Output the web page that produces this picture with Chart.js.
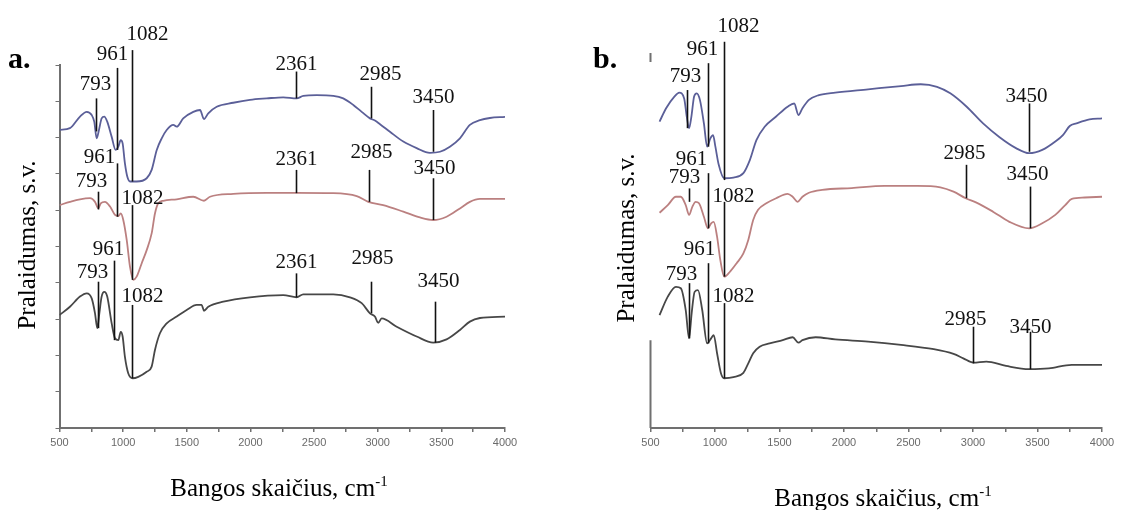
<!DOCTYPE html>
<html lang="lt">
<head>
<meta charset="UTF-8">
<title>FTIR spektrai</title>
<script src="https://cdn.jsdelivr.net/npm/chart.js"></script>
<style>
  body { margin: 0; width: 1123px; height: 510px; background: #fff; position: relative; overflow: hidden;
         font-family: "Liberation Serif", "Times New Roman", serif; color: #000; }
  canvas { position: absolute; top: 0; }
  #chartA { left: 0; }
  #chartB { left: 560px; }
  .txt { position: absolute; white-space: nowrap; line-height: 1; }
  .panel { font-size: 30px; font-weight: bold; }
  .ytitle { font-size: 25px; transform: translate(-50%, -50%) rotate(-90deg); }
  .xtitle { font-size: 25px; transform: translate(-50%, -50%); }
  .xtitle sup { font-size: 0.6em; line-height: 0; }
</style>
</head>
<body>
<canvas id="chartA" width="560" height="510" style="width:560px;height:510px"></canvas>
<canvas id="chartB" width="563" height="510" style="width:563px;height:510px"></canvas>

<div class="txt panel" style="left:8px; top:43px">a.</div>
<div class="txt panel" style="left:593px; top:43px">b.</div>
<div class="txt ytitle" style="left:26px; top:245px">Pralaidumas, s.v.</div>
<div class="txt ytitle" style="left:625px; top:238px">Pralaidumas, s.v.</div>
<div class="txt xtitle" style="left:279px; top:487px">Bangos skaičius, cm<sup>-1</sup></div>
<div class="txt xtitle" style="left:883px; top:497px">Bangos skaičius, cm<sup>-1</sup></div>

<script>
// ---- panel a: spectra (wavenumber, cm-1 / transmittance, a.u.) ----
const wnBlueA = [500,582,661,714,753,773,792,810,831,852,875,910,941,962,981,996,1014,1033,1054,1106,1185,1224,1264,1303,1342,1394,1421,1472,1551,1604,1635,1669,1735,1865,1996,2128,2258,2363,2415,2520,2651,2729,2808,2874,2939,2978,3018,3096,3201,3306,3410,3489,3567,3646,3724,3803,3881,4000];
const trBlueA = [82.1,82.6,85.8,87.1,86.2,84.4,79.8,82.1,85.3,85.8,84.4,80.2,76.6,77.5,79.3,78.4,72.9,69.2,67.9,67.9,68.8,71.1,76.6,79.8,82.1,83.5,83.0,85.3,87.1,87.6,85.1,86.7,88.5,89.6,90.4,90.8,91.1,90.8,91.5,91.7,91.5,90.8,89.0,87.1,85.3,84.7,83.7,81.6,78.9,77.1,75.8,76.1,77.5,79.8,83.5,84.8,85.4,85.7];

const wnRedA = [500,582,661,740,779,805,824,857,897,936,962,981,1001,1028,1054,1080,1106,1146,1185,1224,1250,1276,1315,1421,1551,1635,1682,1865,2128,2363,2651,2835,2926,3043,3201,3332,3436,3541,3646,3724,3803,4000];
const trRedA = [61.4,62.3,63.0,63.3,62.3,60.5,61.9,62.3,61.0,58.7,58.4,59.1,57.3,51.8,44.4,40.8,41.7,45.4,49.0,53.6,59.1,61.9,62.6,63.0,63.7,62.6,63.7,64.5,64.8,64.8,64.7,63.9,62.3,61.4,59.6,58.0,57.3,58.2,60.5,62.3,63.1,63.1];

const wnBlackA = [500,582,661,714,753,779,797,813,831,852,875,910,936,962,981,996,1014,1040,1075,1119,1185,1224,1250,1289,1342,1421,1499,1578,1617,1635,1669,1787,1996,2258,2363,2415,2651,2782,2874,2939,2978,3004,3031,3149,3306,3436,3541,3646,3724,3803,4000];
const trBlackA = [31.1,33.4,36.2,37.1,35.7,31.6,27.5,31.6,36.2,37.5,36.2,28.8,24.7,24.2,26.5,25.2,19.6,15.1,13.7,14.1,15.5,16.9,21.5,26.1,28.8,30.7,32.5,33.9,33.9,32.3,33.4,34.8,36.0,36.6,36.0,36.8,36.8,36.0,34.4,31.6,30.7,29.0,30.2,27.9,25.2,23.5,24.4,27.0,29.3,30.3,30.7];

// ---- panel b ----
const wnBlueB = [570,621,685,723,761,781,799,817,838,858,883,914,939,964,985,1003,1029,1071,1143,1220,1270,1321,1385,1474,1563,1614,1647,1678,1728,1805,1932,2187,2442,2595,2721,2824,2951,3078,3206,3333,3435,3537,3638,3697,3750,3802,3903,4000];
const trBlueB = [84.4,88.1,91.3,92.4,90.8,85.8,82.6,85.8,91.3,92.2,90.4,83.9,77.5,79.8,80.7,77.5,72.5,68.8,69.0,70.2,73.8,79.3,83.0,85.8,88.5,89.4,86.2,88.1,90.4,91.7,92.4,93.3,94.2,94.7,94.0,92.2,88.5,83.9,80.1,77.1,75.7,76.6,78.9,80.7,83.2,83.9,85.0,85.3];

const wnRedB = [570,634,697,735,773,799,825,850,876,914,945,970,990,1016,1041,1071,1117,1168,1220,1258,1296,1334,1398,1474,1563,1602,1640,1678,1728,1831,2060,2314,2569,2747,2849,2943,3027,3155,3282,3435,3537,3638,3715,3766,3865,4000];
const trRedB = [59.3,61.4,63.7,63.7,61.4,58.7,61.0,62.3,61.9,58.2,55.0,56.4,56.8,52.7,46.3,41.7,43.1,45.4,48.1,51.8,57.3,60.1,61.9,63.3,64.5,63.7,62.3,63.7,64.8,65.6,66.1,66.7,66.7,66.3,65.1,63.3,62.1,59.6,56.8,55.0,56.4,58.7,61.4,63.1,63.5,63.7];

const wnBlackB = [570,634,697,735,773,799,819,842,868,901,939,970,990,1016,1046,1071,1143,1220,1258,1296,1346,1423,1525,1602,1647,1678,1780,1932,2187,2442,2696,2849,2925,3002,3103,3256,3435,3588,3766,4000];
const trBlackB = [31.1,36.2,38.9,38.5,32.5,24.7,31.6,37.5,38.0,32.5,23.3,24.7,25.6,20.6,15.1,13.7,14.0,15.2,17.8,20.6,22.4,23.3,24.2,25.0,23.5,24.2,25.0,24.4,23.8,22.9,21.7,20.4,19.2,18.0,18.3,17.1,16.2,16.4,17.4,17.4];

// ---- peak marks: label, where the mark is drawn, mark top/end and label baseline (a.u.) ----
const peaksA = ['793','961','1082','2361','2985','3450'];
const blueAtA = [787,949,1072,2358,2946,3431];
const blueTopA = [90.8,99.2,104.1,98.2,94.0,87.6];
const blueEndA = [81.7,76.6,67.9,90.8,85.3,76.1];
const blueTextA = [93.1,101.4,106.9,98.6,95.9,89.5];
const redAtA = [805,949,1067,2358,2933,3431];
const redTopA = [65.1,72.9,61.4,71.1,71.1,68.8];
const redEndA = [60.2,58.2,40.8,64.7,62.3,57.3];
const redTextA = [66.4,73.0,61.7,72.5,74.4,70.0];
const blackAtA = [800,931,1067,2358,2944,3450];
const blackTopA = [40.3,46.1,33.9,42.6,40.3,34.8];
const blackEndA = [27.5,24.2,13.7,36.0,31.6,23.5];
const blackTextA = [41.3,47.7,34.8,44.1,45.2,38.9];

const peaksBlueB = ['793','961','1082','3450'];
const peaksB = ['793','961','1082','2985','3450'];
const blueAtB = [786,949,1069,3435];
const blueTopB = [93.1,100.5,106.4,89.4];
const blueEndB = [82.6,77.5,68.3,76.1];
const blueTextB = [95.3,102.8,109.2,89.9];
const redAtB = [799,947,1071,2943,3440];
const redTopB = [66.0,70.2,62.3,72.5,66.5];
const redEndB = [62.3,55.0,41.7,63.3,55.0];
const redTextB = [67.5,72.5,62.3,74.1,68.3];
const blackAtB = [799,947,1071,3002,3443];
const blackTopB = [39.9,45.4,34.4,27.9,26.5];
const blackEndB = [24.7,23.3,13.7,17.8,16.2];
const blackTextB = [40.8,47.7,34.8,28.4,26.2];

// label nudges in px (layout only)
const nudgeBlueA = [-1,-5,15,0,9,0], nudgeRedA = [-7,-18,10,0,2,1], nudgeBlackA = [-6,-6,10,0,1,3];
const nudgeBlueB = [-2,-6,14,-3], nudgeRedB = [-5,-17,9,-2,-3], nudgeBlackB = [-8,-9,9,-8,0];

const BLUE = '#5b5f98', RED = '#bb8080', BLACK = '#474747', AXIS = '#707070';

function pts(xs, ys) { return xs.map((x, i) => ({ x: x, y: ys[i] })); }

function series(xs, ys, color, text, at, top, end, base, nudge) {
    return {
        data: pts(xs, ys),
        borderColor: color,
        borderWidth: 1.8,
        pointRadius: 0,
        cubicInterpolationMode: 'monotone',
        fill: false,
        marks: { text, at, top, end, base, nudge }
    };
}

// marker lines + wavenumber labels
const peakMarks = {
    id: 'peakMarks',
    afterDatasetsDraw(chart) {
        const { ctx } = chart;
        const xs = chart.scales.x, ys = chart.scales.y;
        ctx.save();
        ctx.strokeStyle = '#111';
        ctx.fillStyle = '#111';
        ctx.lineWidth = 1.6;
        ctx.font = '21px "Liberation Serif", serif';
        ctx.textAlign = 'center';
        ctx.textBaseline = 'alphabetic';
        chart.data.datasets.forEach(ds => {
            const m = ds.marks;
            m.text.forEach((t, i) => {
                const px = Math.round(xs.getPixelForValue(m.at[i])) + 0.5;
                ctx.beginPath();
                ctx.moveTo(px, ys.getPixelForValue(m.top[i]));
                ctx.lineTo(px, ys.getPixelForValue(m.end[i]));
                ctx.stroke();
                ctx.fillText(t, px + m.nudge[i], ys.getPixelForValue(m.base[i]));
            });
        });
        // panel b: the left axis is only visible below the spectra
        if (chart.options.plugins.peakMarks.partialAxis) {
            const a = chart.chartArea;
            ctx.strokeStyle = AXIS;
            ctx.lineWidth = 2;
            ctx.beginPath();
            ctx.moveTo(a.left, ys.getPixelForValue(24.2));
            ctx.lineTo(a.left, a.bottom);
            ctx.moveTo(a.left, ys.getPixelForValue(103.3));
            ctx.lineTo(a.left, ys.getPixelForValue(100.8));
            ctx.stroke();
        }
        ctx.restore();
    }
};

function makeChart(id, datasets, padLeft, padRight, showY) {
    return new Chart(document.getElementById(id), {
        type: 'line',
        data: { datasets },
        options: {
            responsive: false,
            animation: false,
            layout: { padding: { top: 65, bottom: 52, left: padLeft, right: padRight } },
            plugins: {
                legend: { display: false },
                tooltip: { enabled: false },
                peakMarks: { partialAxis: !showY }
            },
            scales: {
                x: {
                    type: 'linear',
                    min: 500, max: 4000,
                    afterFit: s => { s.height = 30; },
                    border: { display: true, color: AXIS, width: 2 },
                    grid: { display: true, drawOnChartArea: false, drawTicks: true, tickLength: 4, color: AXIS, lineWidth: 1.5 },
                    ticks: {
                        stepSize: 250, autoSkip: false, maxRotation: 0, padding: 4,
                        color: '#6a6a6a',
                        font: { family: '"Liberation Sans", Arial, sans-serif', size: 11 },
                        callback: v => (v % 500 === 0 ? v : '')
                    }
                },
                y: {
                    display: showY,
                    min: 0, max: 100,
                    afterFit: s => { s.width = 6; },
                    border: { display: true, color: AXIS, width: 2 },
                    grid: { display: true, drawOnChartArea: false, drawTicks: true, tickLength: 4, color: AXIS, lineWidth: 1 },
                    ticks: { display: false, stepSize: 10 }
                }
            }
        },
        plugins: [peakMarks]
    });
}

makeChart('chartA', [
    series(wnBlueA, trBlueA, BLUE, peaksA, blueAtA, blueTopA, blueEndA, blueTextA, nudgeBlueA),
    series(wnRedA, trRedA, RED, peaksA, redAtA, redTopA, redEndA, redTextA, nudgeRedA),
    series(wnBlackA, trBlackA, BLACK, peaksA, blackAtA, blackTopA, blackEndA, blackTextA, nudgeBlackA)
], 53.5, 55, true);

makeChart('chartB', [
    series(wnBlueB, trBlueB, BLUE, peaksBlueB, blueAtB, blueTopB, blueEndB, blueTextB, nudgeBlueB),
    series(wnRedB, trRedB, RED, peaksB, redAtB, redTopB, redEndB, redTextB, nudgeRedB),
    series(wnBlackB, trBlackB, BLACK, peaksB, blackAtB, blackTopB, blackEndB, blackTextB, nudgeBlackB)
], 84.5, 21, false);
</script>
</body>
</html>
